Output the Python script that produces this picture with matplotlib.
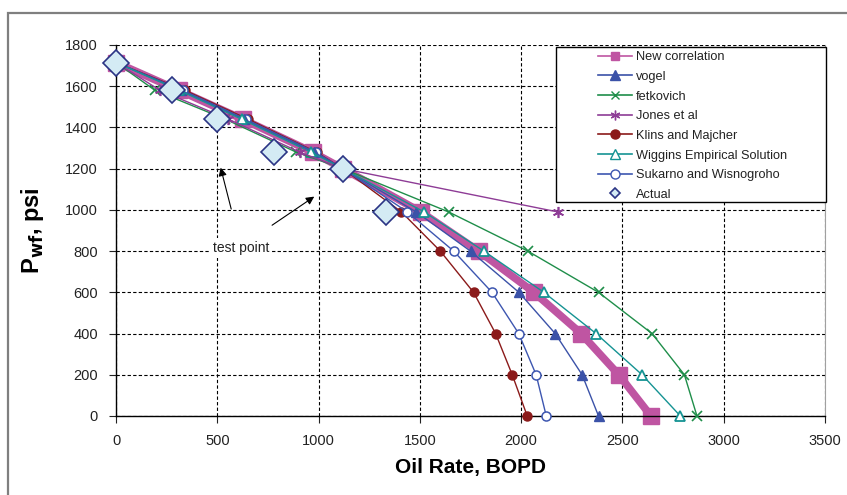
import numpy as np
import matplotlib
matplotlib.use('Agg')
import matplotlib.pyplot as plt
from matplotlib.lines import Line2D
from matplotlib.patches import Rectangle

plt.rcParams['font.family'] = ['Liberation Sans', 'DejaVu Sans']

# flowing bottom-hole pressure levels, psi
p_full = np.array([1715, 1580, 1440, 1280, 1200, 990, 800, 600, 400, 200, 0])
p_jones = np.array([1715, 1580, 1440, 1280, 1200, 990])
p_actual = np.array([1715, 1580, 1440, 1280, 1200, 990])

# oil rates (BOPD) from each IPR correlation
q_new = np.array([0, 310, 625, 970, 1120, 1505, 1790, 2063, 2296, 2482, 2641])
q_vogel = np.array([0, 320, 630, 975, 1120, 1482, 1750, 1989, 2168, 2301, 2382])
q_fetk = np.array([0, 192, 540, 890, 1120, 1642, 2033, 2382, 2646, 2806, 2868])
q_jones = np.array([0, 217, 555, 907, 1120, 2181])
q_klins = np.array([0, 340, 652, 990, 1120, 1409, 1601, 1765, 1874, 1956, 2030])
q_wiggins = np.array([0, 312, 620, 962, 1120, 1521, 1816, 2112, 2370, 2597, 2786])
q_sukarno = np.array([0, 330, 640, 985, 1120, 1438, 1667, 1856, 1988, 2074, 2124])
q_actual = np.array([0, 278, 500, 780, 1121, 1335])

c_new = '#BF55A2'; c_vogel = '#3B52A8'; c_fetk = '#1F8E4A'
c_jones = '#8E3C96'; c_klins = '#8B1A1A'; c_wig = '#159393'
c_suk = '#3D56B0'; c_act_edge = '#2B3585'; c_act_fill = '#D4EBF4'

fig = plt.figure(figsize=(8.47, 4.95), dpi=100)
ax = fig.add_axes([0.137, 0.1596, 0.837, 0.7495])

# outer chart frame
fig.patches.append(Rectangle((8/847, -0.05), 1.2, 1 - 12.5/495 + 0.05,
                             transform=fig.transFigure, fill=False,
                             edgecolor='#7f7f7f', linewidth=1.6))

ax.plot(q_klins, p_full, '-', color=c_klins, lw=1.0, marker='o', ms=6.5,
        mfc=c_klins, mec=c_klins, zorder=3, clip_on=False)
ax.plot(q_sukarno, p_full, '-', color=c_suk, lw=1.0, marker='o', ms=6.5,
        mfc='white', mec=c_suk, mew=1.1, zorder=3, clip_on=False)
ax.plot(q_vogel, p_full, '-', color=c_vogel, lw=1.0, marker='^', ms=7.5,
        mfc=c_vogel, mec=c_vogel, zorder=3, clip_on=False)
ax.plot(q_new, p_full, '-', color=c_new, lw=5.5, marker='s', ms=12,
        mfc=c_new, mec=c_new, zorder=2.5, clip_on=False)
ax.plot(q_wiggins, p_full, '-', color=c_wig, lw=1.0, marker='^', ms=7.5,
        mfc='white', mec=c_wig, mew=1.3, zorder=3, clip_on=False)
ax.plot(q_fetk, p_full, '-', color=c_fetk, lw=1.0, marker='x', ms=6.5,
        mec=c_fetk, mew=1.2, zorder=3, clip_on=False)
ax.plot(q_jones, p_jones, '-', color=c_jones, lw=1.0, marker=(6, 2, 0), ms=8,
        mec=c_jones, mew=1.2, zorder=3, clip_on=False)
ax.plot(q_actual, p_actual, 'D', ms=13, mfc=c_act_fill, mec=c_act_edge,
        mew=1.2, zorder=4, clip_on=False)

ax.set_xlim(0, 3500)
ax.set_ylim(0, 1800)
ax.set_xticks(np.arange(0, 3501, 500))
ax.set_yticks(np.arange(0, 1801, 200))
ax.grid(True, color='black', linestyle=(0, (3, 2)), linewidth=0.8)
ax.set_axisbelow(True)
ax.spines['top'].set_visible(False)
ax.spines['right'].set_color('#a0a0a0')
ax.spines['left'].set_linewidth(1.0)
ax.spines['bottom'].set_linewidth(1.0)
ax.tick_params(axis='both', direction='out', length=5, labelsize=10.5,
               colors='#222222', pad=8)

ax.set_xlabel('Oil Rate, BOPD', fontsize=15, fontweight='bold', labelpad=7)
ax.set_ylabel(r'P$_{\mathbf{wf}}$, psi', fontsize=17, fontweight='bold', labelpad=14)

# test point callout
ax.text(616, 815, 'test point', fontsize=10, ha='center', va='center',
        color='#222222', bbox=dict(facecolor='white', edgecolor='none', pad=2))
ax.annotate('', xy=(513, 1218), xytext=(572, 991),
            arrowprops=dict(arrowstyle='-|>', color='black', lw=0.8,
                            mutation_scale=12))
ax.annotate('', xy=(990, 1072), xytext=(759, 918),
            arrowprops=dict(arrowstyle='-|>', color='black', lw=0.8,
                            mutation_scale=12))

# legend box, drawn separately so the entries can sit right of its left edge
ax.add_patch(Rectangle((0.6206, 0.5776), 0.3808, 0.4178, transform=ax.transAxes,
                       facecolor='white', edgecolor='black', lw=1.0,
                       zorder=5, clip_on=False))

handles = [
    Line2D([], [], color=c_new, lw=1.2, marker='s', ms=6, mfc=c_new, mec=c_new),
    Line2D([], [], color=c_vogel, lw=1.2, marker='^', ms=6.5, mfc=c_vogel, mec=c_vogel),
    Line2D([], [], color=c_fetk, lw=1.2, marker='x', ms=6, mec=c_fetk),
    Line2D([], [], color=c_jones, lw=1.2, marker=(6, 2, 0), ms=7, mec=c_jones),
    Line2D([], [], color=c_klins, lw=1.2, marker='o', ms=6.5, mfc=c_klins, mec=c_klins),
    Line2D([], [], color=c_wig, lw=1.2, marker='^', ms=6.5, mfc='white', mec=c_wig),
    Line2D([], [], color=c_suk, lw=1.2, marker='o', ms=6.5, mfc='white', mec=c_suk),
    Line2D([], [], ls='none', marker='D', ms=5, mfc=c_act_fill, mec=c_act_edge, mew=1.2),
]
labels = ['New correlation', 'vogel', 'fetkovich', 'Jones et al', 'Klins and Majcher',
          'Wiggins Empirical Solution', 'Sukarno and Wisnogroho', 'Actual']
leg = ax.legend(handles, labels, loc='upper left', bbox_to_anchor=(0.6798, 0.983),
                fontsize=9.2, frameon=False, handlelength=2.66, handletextpad=0.3,
                labelspacing=0.6, borderpad=0, borderaxespad=0)
leg.set_zorder(6)
for t in leg.get_texts():
    t.set_color('#222222')

fig.savefig('out.png', dpi=100)
